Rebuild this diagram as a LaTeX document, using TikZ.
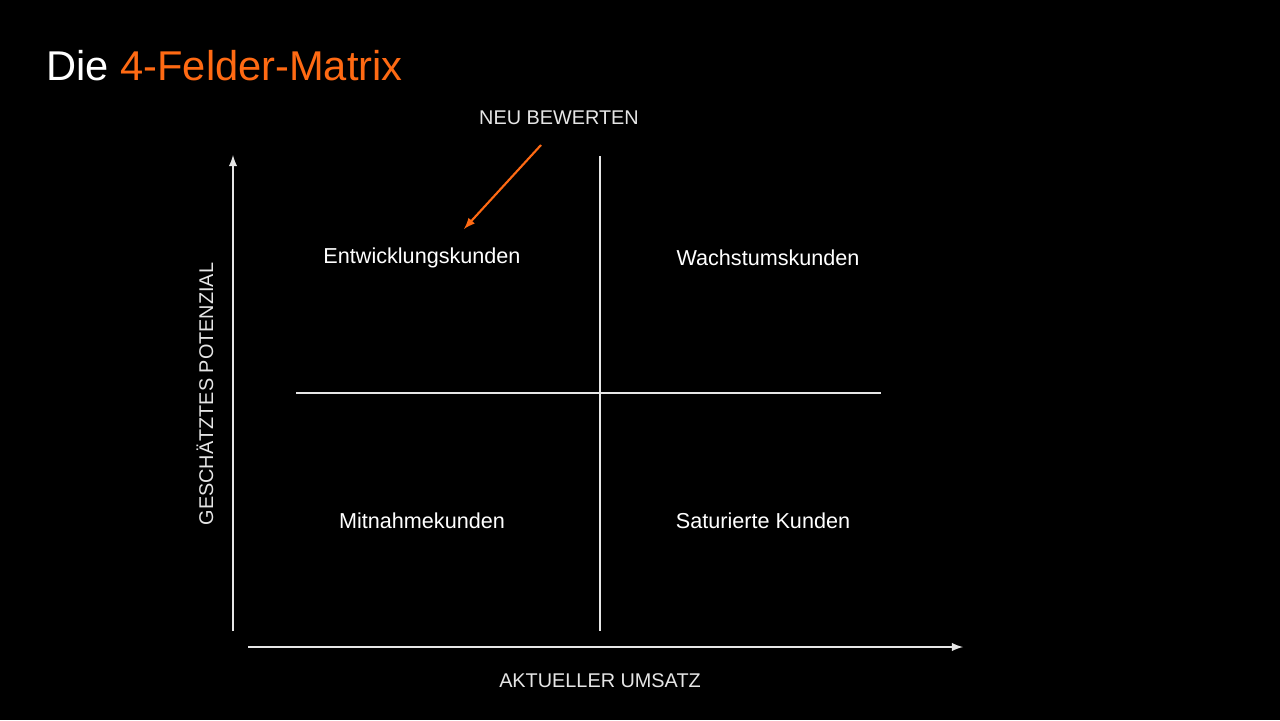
\documentclass[tikz,border=0pt]{standalone}
\usepackage{fontspec}
\setmainfont{Liberation Sans}
\definecolor{orng}{HTML}{FF6A13}
\definecolor{ln}{HTML}{E6E6E6}
\begin{document}
\begin{tikzpicture}[x=0.02cm,y=-0.02cm,
  lbl/.style={text=white,font=\fontsize{12.3}{14}\selectfont},
  captxt/.style={text=ln,font=\fontsize{11.3}{13}\selectfont},
  axis/.style={draw=ln,line width=1.2pt,-latex},
  div/.style={draw=ln,line width=1.2pt}]
\fill[black] (0,0) rectangle (1280,720);
\useasboundingbox (0,0) rectangle (1280,720);
\node[anchor=west,inner sep=0pt,text=white,font=\fontsize{23.7}{26}\selectfont] (title) at (46,66) {Die \textcolor{orng}{4-Felder-Matrix}};
\coordinate (ya) at (233,631); \coordinate (yb) at (233,155);
\coordinate (xa) at (248,647); \coordinate (xb) at (963,647);
\draw[axis] (ya) -- (yb);
\draw[axis] (xa) -- (xb);
\coordinate (va) at (600,156); \coordinate (vb) at (600,631);
\coordinate (ha) at (296,393); \coordinate (hb) at (881,393);
\draw[div] (va) -- (vb);
\draw[div] (ha) -- (hb);
\node[lbl] (q1) at (422,258) {Entwicklungskunden};
\node[lbl] (q2) at (768,258) {Wachstumskunden};
\node[lbl] (q3) at (422,521) {Mitnahmekunden};
\node[lbl] (q4) at (763,521) {Saturierte Kunden};
\node[captxt] (neu) at (559,118) {NEU BEWERTEN};
\coordinate (as) at (541,145); \coordinate (ae) at (464,229);
\draw[orng,line width=1.2pt,-latex] (as) -- (ae);
\node[captxt] (xl) at (600,681) {AKTUELLER UMSATZ};
\node[captxt,rotate=90] (yl) at (205,394) {GESCHÄTZTES POTENZIAL};
\end{tikzpicture}
\end{document}
